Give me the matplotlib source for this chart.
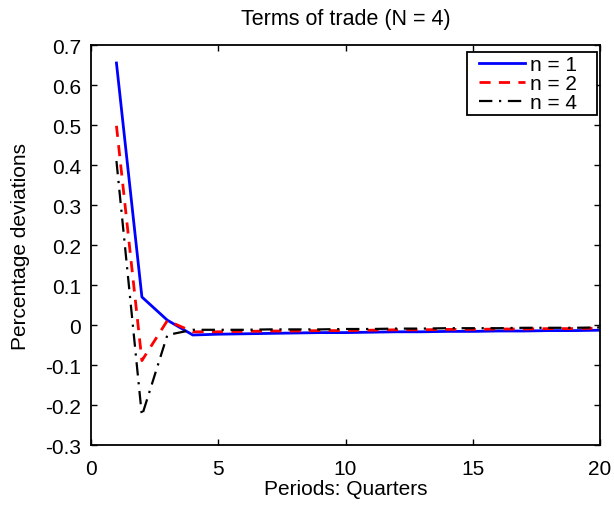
import matplotlib
matplotlib.use("Agg")
import matplotlib.pyplot as plt
from matplotlib.legend_handler import HandlerLine2D
import numpy as np

plt.rcParams["font.family"] = ["Liberation Sans", "DejaVu Sans"]

periods = np.arange(1, 21)
n1 = [0.655, 0.070, 0.012, -0.025, -0.023, -0.022, -0.021, -0.020, -0.019, -0.019,
      -0.018, -0.017, -0.017, -0.016, -0.016, -0.015, -0.015, -0.014, -0.014, -0.013]
n2 = [0.498, -0.089, 0.011, -0.017, -0.017, -0.016, -0.015, -0.015, -0.014, -0.014,
      -0.013, -0.012, -0.012, -0.011, -0.011, -0.010, -0.010, -0.009, -0.009, -0.008]
n4 = [0.410, -0.227, -0.025, -0.012, -0.012, -0.012, -0.011, -0.011, -0.011, -0.010,
      -0.010, -0.009, -0.009, -0.008, -0.008, -0.008, -0.007, -0.007, -0.007, -0.006]
labels = ["n = 1", "n = 2", "n = 4"]
yticks = [-0.3, -0.2, -0.1, 0, 0.1, 0.2, 0.3, 0.4, 0.5, 0.6, 0.7]
ytick_labels = ["-0.3", "-0.2", "-0.1", "0", "0.1", "0.2", "0.3", "0.4", "0.5", "0.6", "0.7"]
xticks = [0, 5, 10, 15, 20]

fs = 15

fig = plt.figure(figsize=(6.14, 5.06), dpi=100)
ax = fig.add_axes([91 / 614, 1 - 446 / 506, 509 / 614, 400 / 506])

# trailing spaces give the legend box its wide right margin
ax.plot(periods, n1, color="blue", linewidth=2.0, label=labels[0] + "   ")
ax.plot(periods, n2, color="red", linewidth=2.0, linestyle=(0, (4, 3)), label=labels[1] + "   ")
ax.plot(periods, n4, color="black", linewidth=1.6, linestyle=(0, (6, 3, 1, 3)),
        label=labels[2] + "   ")

ax.set_xlim(0, 20)
ax.set_ylim(-0.3, 0.7)
ax.set_xticks(xticks)
ax.set_yticks(yticks)
ax.set_yticklabels(ytick_labels)
ax.tick_params(direction="in", top=True, right=True, labelsize=fs, length=4, width=1.0)
ax.tick_params(axis="x", pad=10)
ax.tick_params(axis="y", pad=7)
for spine in ax.spines.values():
    spine.set_linewidth(1.3)

ax.set_title("Terms of trade (N = 4)", fontsize=15.5, pad=15)
ax.set_xlabel("Periods: Quarters", fontsize=fs, labelpad=0.5)
ax.set_ylabel("Percentage deviations", fontsize=fs, labelpad=11)

# shift the legend lines right so the box has a wider left margin
handler = HandlerLine2D(xpad=0.43)
leg = ax.legend(loc="upper right", bbox_to_anchor=(1 - 3 / 509, 1 - 7 / 400),
                borderaxespad=0, fontsize=fs, fancybox=False, framealpha=1,
                edgecolor="black", handlelength=2.65, handletextpad=0.2,
                borderpad=0.15, labelspacing=0.0,
                handler_map={matplotlib.lines.Line2D: handler})
leg.get_frame().set_linewidth(1.3)

fig.savefig("out.png", dpi=100)
